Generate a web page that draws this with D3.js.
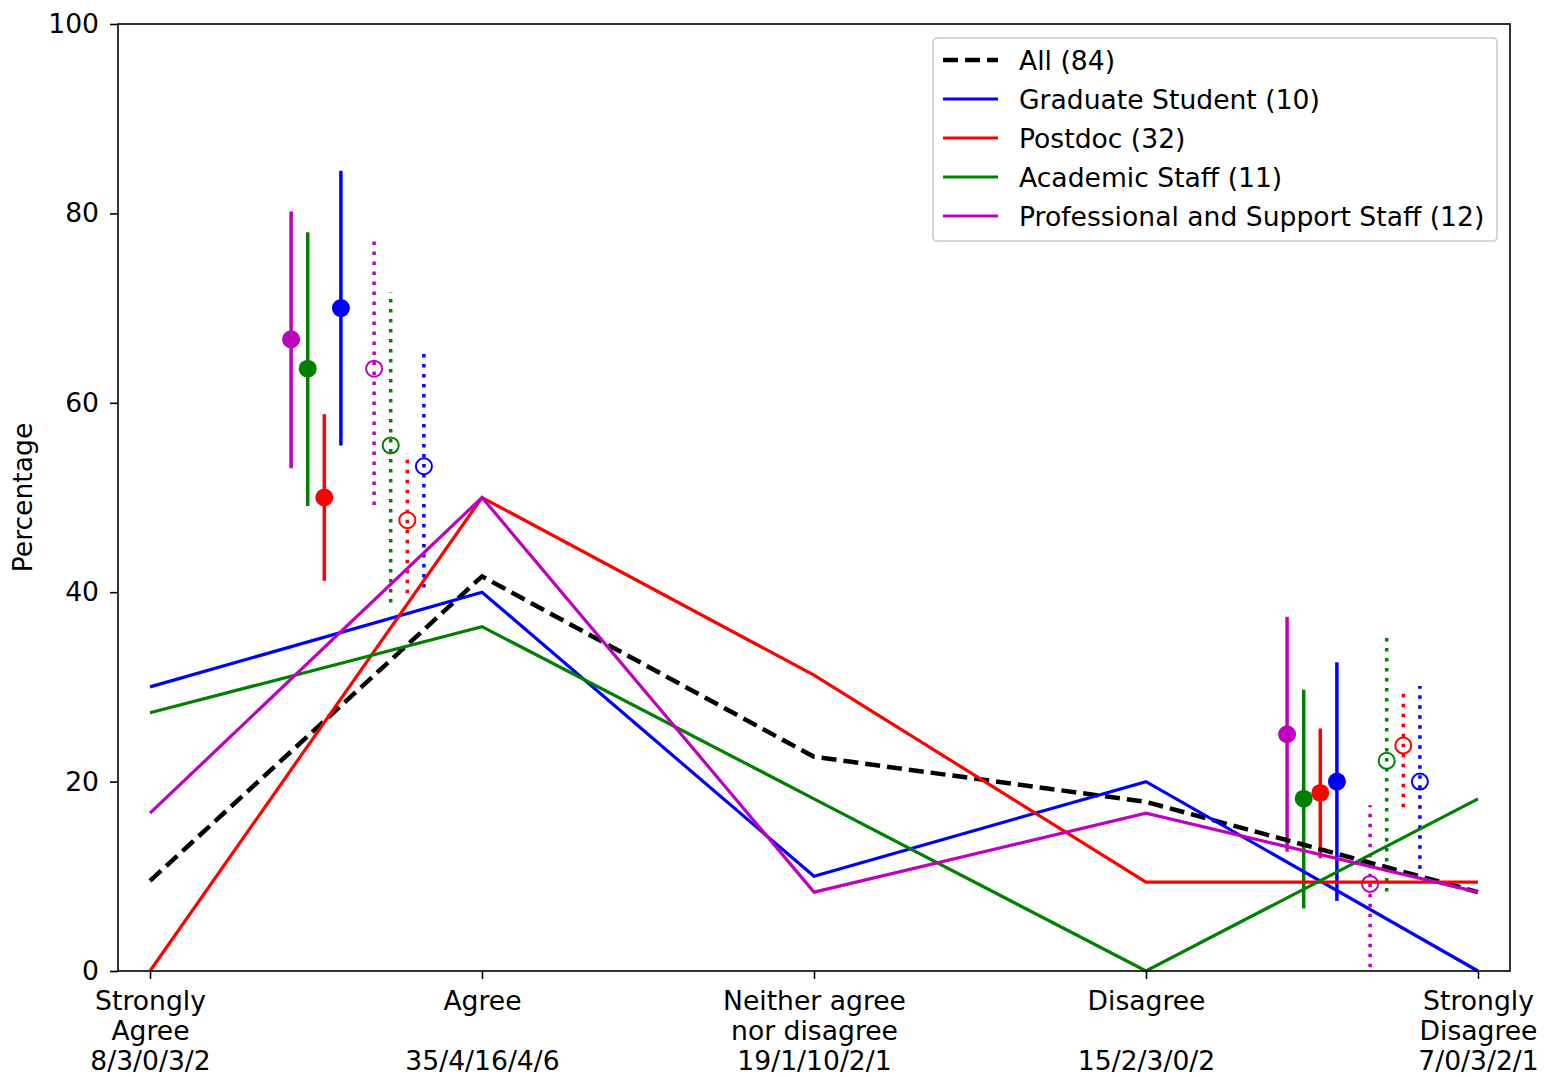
<!DOCTYPE html>
<html>
<head>
<meta charset="utf-8">
<script src="https://cdn.jsdelivr.net/npm/d3@7"></script>
<style>
  html, body { margin: 0; padding: 0; background: #fff; }
  svg { display: block; font-family: "DejaVu Sans", sans-serif; }
</style>
</head>
<body>
<svg id="chart" width="1550" height="1078"></svg>
<script>
// ---------- data ----------
const catLine1 = ["Strongly", "Agree", "Neither agree", "Disagree", "Strongly"];
const catLine2 = ["Agree", "", "nor disagree", "", "Disagree"];
const countLabels = ["8/3/0/3/2", "35/4/16/4/6", "19/1/10/2/1", "15/2/3/0/2", "7/0/3/2/1"];
const yTicks = [0, 20, 40, 60, 80, 100];

const seriesNames = ["All (84)", "Graduate Student (10)", "Postdoc (32)", "Academic Staff (11)", "Professional and Support Staff (12)"];
const allVals = [9.52, 41.67, 22.62, 17.86, 8.33];
const gradVals = [30.0, 40.0, 10.0, 20.0, 0.0];
const postdocVals = [0.0, 50.0, 31.25, 9.38, 9.38];
const academicVals = [27.27, 36.36, 18.18, 0.0, 18.18];
const profVals = [16.67, 50.0, 8.33, 16.67, 8.33];

// error-bar groups: order Professional, Academic, Postdoc, Graduate
const ebOrder = ["prof", "academic", "postdoc", "grad"];
const agreeFilledMid = [66.7, 63.6, 50.0, 70.0];
const agreeFilledLow = [53.1, 49.1, 41.2, 55.5];
const agreeFilledHigh = [80.2, 78.0, 58.8, 84.5];
const agreeOpenMid = [63.6, 55.5, 47.6, 53.3];
const agreeOpenLow = [49.2, 38.9, 39.9, 40.5];
const agreeOpenHigh = [77.5, 71.7, 54.7, 65.4];
const disFilledMid = [25.0, 18.2, 18.8, 20.0];
const disFilledLow = [12.6, 6.6, 11.9, 7.4];
const disFilledHigh = [37.4, 29.7, 25.6, 32.6];
const disOpenMid = [9.2, 22.2, 23.8, 20.0];
const disOpenLow = [0.4, 8.4, 17.3, 10.8];
const disOpenHigh = [17.5, 35.7, 29.9, 30.1];

// ---------- layout ----------
const colors = { all: "#000000", grad: "#0000ff", postdoc: "#ff0000", academic: "#008000", prof: "#bf00bf" };
const L = 118, R = 1510, T = 24, B = 971;
const FS = 26.6;

const svg = d3.select("#chart");
const x = d3.scaleLinear().domain([-0.0964, 4.0964]).range([L, R]);
const y = d3.scaleLinear().domain([0, 100]).range([B, T]);

// ---------- error bars ----------
const filledOffsets = [0.425, 0.475, 0.525, 0.575];
const openOffsets = [0.675, 0.725, 0.775, 0.825];
function drawGroup(base, offsets, mid, low, high, filled) {
  const g = svg.append("g");
  ebOrder.forEach((k, i) => {
    const cx = x(base + offsets[i]);
    g.append("line")
      .attr("x1", cx).attr("x2", cx)
      .attr("y1", y(low[i])).attr("y2", y(high[i]))
      .attr("stroke", colors[k])
      .attr("stroke-width", 3.5)
      .attr("stroke-dasharray", filled ? null : "3.5,6.5");
    g.append("circle")
      .attr("cx", cx).attr("cy", y(mid[i]))
      .attr("r", filled ? 9 : 8)
      .attr("fill", filled ? colors[k] : "none")
      .attr("stroke", colors[k])
      .attr("stroke-width", filled ? 0 : 2);
  });
}
drawGroup(0, filledOffsets, agreeFilledMid, agreeFilledLow, agreeFilledHigh, true);
drawGroup(0, openOffsets, agreeOpenMid, agreeOpenLow, agreeOpenHigh, false);
drawGroup(3, filledOffsets, disFilledMid, disFilledLow, disFilledHigh, true);
drawGroup(3, openOffsets, disOpenMid, disOpenLow, disOpenHigh, false);

// ---------- lines ----------
const line = d3.line().x((d, i) => x(i)).y(d => y(d));
const seriesList = [
  { key: "all", vals: allVals, dash: "15,7", w: 4.5 },
  { key: "grad", vals: gradVals, dash: null, w: 3.2 },
  { key: "postdoc", vals: postdocVals, dash: null, w: 3.2 },
  { key: "academic", vals: academicVals, dash: null, w: 3.2 },
  { key: "prof", vals: profVals, dash: null, w: 3.2 }
];
seriesList.forEach(s => {
  svg.append("path")
    .datum(s.vals)
    .attr("d", line)
    .attr("fill", "none")
    .attr("stroke", colors[s.key])
    .attr("stroke-width", s.w)
    .attr("stroke-dasharray", s.dash);
});

// ---------- axes ----------
const yAxis = svg.append("g")
  .attr("transform", `translate(${L},0)`)
  .call(d3.axisLeft(y).tickValues(yTicks).tickSize(8).tickPadding(11));
yAxis.select(".domain").remove();
yAxis.selectAll(".tick line").attr("stroke", "#000").attr("stroke-width", 1.6);
yAxis.selectAll(".tick text").attr("font-size", FS).attr("fill", "#000")
  .attr("font-family", "DejaVu Sans");

const xAxis = svg.append("g")
  .attr("transform", `translate(0,${B})`)
  .call(d3.axisBottom(x).tickValues([0, 1, 2, 3, 4]).tickSize(8).tickFormat(""));
xAxis.select(".domain").remove();
xAxis.selectAll(".tick line").attr("stroke", "#000").attr("stroke-width", 1.6);
xAxis.selectAll(".tick").each(function (d) {
  const t = d3.select(this).append("text")
    .attr("text-anchor", "middle")
    .attr("font-size", FS)
    .attr("font-family", "DejaVu Sans")
    .attr("fill", "#000");
  [catLine1[d], catLine2[d], countLabels[d]].forEach((s, j) => {
    t.append("tspan").attr("x", 0).attr("y", 39 + j * 30).text(s);
  });
});

// frame
svg.append("rect")
  .attr("x", L).attr("y", T).attr("width", R - L).attr("height", B - T)
  .attr("fill", "none").attr("stroke", "#000").attr("stroke-width", 1.6);

// y label
svg.append("text")
  .attr("transform", `translate(32,${(T + B) / 2}) rotate(-90)`)
  .attr("text-anchor", "middle")
  .attr("font-size", FS)
  .attr("fill", "#000")
  .text("Percentage");

// ---------- legend ----------
const lg = svg.append("g");
lg.append("rect")
  .attr("x", 933).attr("y", 38).attr("width", 564).attr("height", 203).attr("rx", 4)
  .attr("fill", "#fff").attr("fill-opacity", 0.8)
  .attr("stroke", "#cccccc").attr("stroke-width", 1.6);
seriesList.forEach((s, i) => {
  const ry = 60 + i * 39;
  lg.append("line")
    .attr("x1", 943).attr("x2", 998).attr("y1", ry).attr("y2", ry)
    .attr("stroke", colors[s.key]).attr("stroke-width", s.w)
    .attr("stroke-dasharray", s.dash);
  lg.append("text")
    .attr("x", 1019).attr("y", ry).attr("dy", "0.36em")
    .attr("font-size", FS).attr("fill", "#000")
    .text(seriesNames[i]);
});
</script>
</body>
</html>
